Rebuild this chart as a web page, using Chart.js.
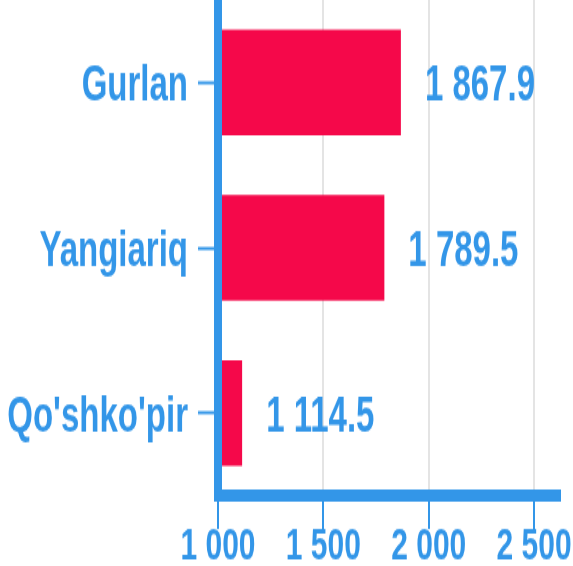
<!DOCTYPE html>
<html>
<head>
<meta charset="utf-8">
<script src="https://cdn.jsdelivr.net/npm/chart.js@4/dist/chart.umd.min.js"></script>
<style>
  html, body { margin: 0; padding: 0; background: #fff; overflow: hidden; width: 573px; height: 566px; }
  #wrap { position: absolute; left: 0; top: 0; width: 573px; height: 380px; transform: scaleY(1.52); transform-origin: 0 0; }
  canvas { display: block; }
</style>
</head>
<body>
<div id="wrap"><canvas id="c" width="573" height="380"></canvas></div>
<script>
const categories = ['Gurlan', 'Yangiariq', "Qo'shko'pir"];
const values = [1867.9, 1789.5, 1114.5];
const tickValues = [1000, 1500, 2000, 2500];
const axisMin = 1000;
const axisMax = 2623;

const BLUE = '#3396E8';
const RED = '#F5084A';
const FONT = "'Liberation Sans', Arial, sans-serif";

function fmt(v, dec) {
  const s = dec ? v.toFixed(dec) : String(Math.round(v));
  const parts = s.split('.');
  parts[0] = parts[0].replace(/\B(?=(\d{3})+(?!\d))/g, ' ');
  return parts.join('.');
}

const valueLabels = {
  id: 'valueLabels',
  afterDatasetsDraw(chart) {
    const ctx = chart.ctx;
    const meta = chart.getDatasetMeta(0);
    ctx.save();
    ctx.font = 'bold 33px ' + FONT;
    ctx.fillStyle = BLUE;
    ctx.textAlign = 'left';
    ctx.textBaseline = 'middle';
    meta.data.forEach((el, i) => {
      ctx.fillText(fmt(values[i], 1), el.x + 24, el.y + 3);
    });
    ctx.restore();
  }
};

new Chart(document.getElementById('c'), {
  type: 'bar',
  data: {
    labels: categories,
    datasets: [{
      data: values,
      backgroundColor: RED,
      borderWidth: 0,
      barPercentage: 0.8,
      categoryPercentage: 0.8
    }]
  },
  options: {
    indexAxis: 'y',
    responsive: false,
    animation: false,
    events: [],
    layout: { padding: { top: 0, right: 13, bottom: 0, left: 0 } },
    plugins: { legend: { display: false }, title: { display: false }, tooltip: { enabled: false } },
    scales: {
      x: {
        type: 'linear',
        min: axisMin,
        max: axisMax,
        afterBuildTicks: (s) => { s.ticks = tickValues.map(v => ({ value: v })); },
        afterFit: (s) => { s.height = 54; s.paddingLeft = 0; s.paddingRight = 0; },
        ticks: {
          color: BLUE,
          padding: -6,
          font: { family: FONT, size: 30, weight: 'bold' },
          callback: (v) => fmt(v, 0)
        },
        grid: {
          color: '#e4e4e4',
          lineWidth: 2,
          tickColor: BLUE,
          tickLength: 22,
          tickWidth: 2
        },
        border: { display: true, color: BLUE, width: 8, z: 1 }
      },
      y: {
        afterFit: (s) => { s.width = 218; s.paddingTop = 0; s.paddingBottom = 0; },
        ticks: {
          color: BLUE,
          padding: 10,
          labelOffset: 3,
          font: { family: FONT, size: 33, weight: 'bold' }
        },
        grid: {
          offset: false,
          drawOnChartArea: false,
          tickColor: BLUE,
          tickLength: 20,
          tickWidth: 2
        },
        border: { display: true, color: BLUE, width: 8, z: 1 }
      }
    }
  },
  plugins: [valueLabels]
});
</script>
</body>
</html>
